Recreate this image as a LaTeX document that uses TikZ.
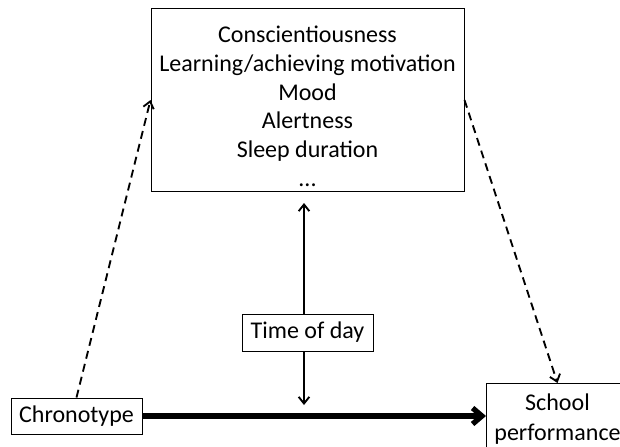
\documentclass[tikz,border=0pt]{standalone}
\usepackage{fontspec}
\setmainfont{Carlito}
\usetikzlibrary{arrows.meta}

\begin{document}
\begin{tikzpicture}[x=0.75pt,y=-0.75pt,
    box/.style={draw,line width=0.75pt,align=center,inner sep=3pt,
      font=\fontsize{18}{21.5}\selectfont},
    thinarrow/.style={line width=1.4pt,-{Straight Barb[length=5pt,width=8pt]}},
    dasharrow/.style={thinarrow,dash pattern=on 6pt off 4pt},
    thickarrow/.style={line width=4pt,-{Straight Barb[length=7pt,width=12pt]}}]
  \clip (0,0) rectangle (620,446);

  % Box of the mediating factors
  \node [box,minimum width=234.75pt,minimum height=137.25pt] (mediators) at (307.5,100)
    {\rule{0pt}{22pt}Conscientiousness\\Learning/achieving motivation\\Mood\\Alertness\\Sleep duration\\...};%

  % Box of the moderator
  \node [box,minimum width=98.25pt,minimum height=27.75pt] (timeofday) at (307.5,332.5) {Time of day};%

  % Box of the predictor
  \node [box,minimum width=98.25pt,minimum height=27pt] (chrono) at (76.5,416) {Chronotype};%

  % Box of the outcome (runs past the border)
  \node [box,minimum width=106.5pt,inner ysep=8pt,anchor=north west,
    font=\fontsize{18}{22.5}\selectfont] (school) at (486,383) {School\\performance};%

  % Tips of the double arrow
  \coordinate (uptip) at (304,203);%
  \coordinate (downtip) at (304,405);%

  % Drawing dashed arrows through the mediators
  \draw [dasharrow] (chrono.north) -- (mediators.west);%
  \draw [dasharrow] (mediators.east) -- (school.north);%

  % Drawing arrows of time of day
  \draw [thinarrow] (timeofday.north -| uptip) -- (uptip);%
  \draw [thinarrow] (timeofday.south -| downtip) -- (downtip);%

  % Drawing direct path
  \draw [thickarrow] (chrono.east) -- (chrono.east -| school.west);%
\end{tikzpicture}
\end{document}
